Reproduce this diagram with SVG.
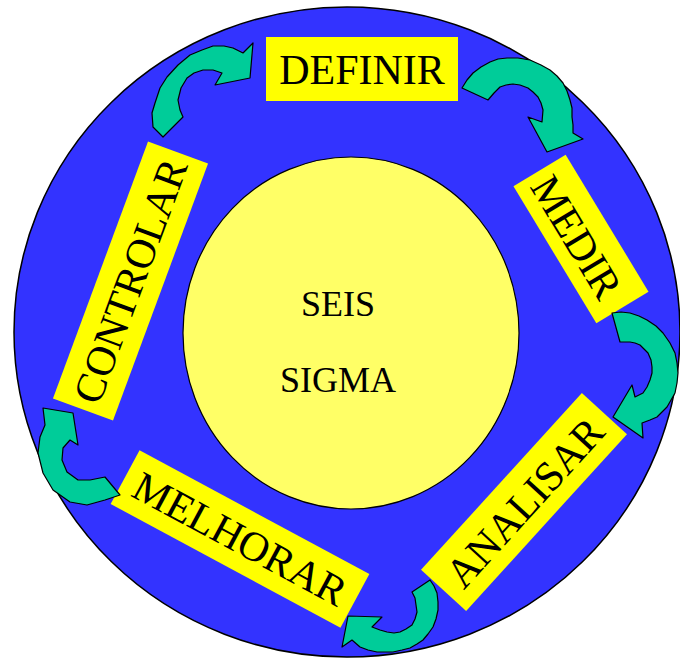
<svg xmlns="http://www.w3.org/2000/svg" width="680" height="658" viewBox="0 0 680 658">
<style>
.lbl{fill:#FFFF00;stroke:none}
.t{font-family:"Liberation Serif","Times New Roman",serif;font-size:42px;fill:#000;text-anchor:middle}
.c{font-family:"Liberation Serif","Times New Roman",serif;font-size:36px;fill:#000;text-anchor:middle}
.arr{fill:#00CC99;stroke:#000;stroke-width:1.2;stroke-linejoin:round}
</style>
<rect width="680" height="658" fill="#FFFFFF"/>
<g id="outer">
<ellipse cx="347" cy="332" rx="333" ry="325" fill="#3333FF" stroke="#000" stroke-width="1.5"/>
</g>
<g id="center">
<ellipse cx="351" cy="333" rx="168" ry="176" fill="#FFFF66" stroke="#000" stroke-width="1.2"/>
<text class="c" x="338" y="316">SEIS</text>
<text class="c" x="338" y="392">SIGMA</text>
</g>
<g id="definir">
<rect class="lbl" x="266" y="37" width="192" height="64"/>
<text class="t" x="362" y="84">DEFINIR</text>
</g>
<g id="medir" transform="translate(581,239) rotate(58.8)">
<rect class="lbl" x="-80" y="-30.5" width="160" height="61"/>
<text class="t" x="-4" y="17">MEDIR</text>
</g>
<g id="analisar" transform="translate(524,502) rotate(-47.7)">
<rect class="lbl" x="-119.5" y="-30.5" width="239" height="61"/>
<text class="t" x="0" y="15">ANALISAR</text>
</g>
<g id="melhorar" transform="translate(240,539) rotate(28.3)">
<rect class="lbl" x="-130.5" y="-30.5" width="261" height="61"/>
<text class="t" x="0" y="14">MELHORAR</text>
</g>
<g id="controlar" transform="translate(130.5,281) rotate(-69.7)">
<rect class="lbl" x="-137" y="-32" width="274" height="64"/>
<text class="t" x="0" y="14">CONTROLAR</text>
</g>
<g id="connectors">
<path class="arr" d="M163,137 L153,127 L152,113 L155,103 L160,88 L167,77 L178,65 L190,55 L202,50 L213,46 L224,46 L233,48 L243,53 L253,43 L250,78 L215,85 L222,73 L213,70 L203,70 L194,73 L187,78 L181,88 L178,100 L180,110 L183,117 Z"/>
<path class="arr" d="M462,88 L467,80 L473,73 L481,67 L490,62 L498,59 L507,58 L518,58 L530,60 L541,65 L550,70 L557,76 L563,83 L567,91 L570,100 L572,108 L572,117 L573,125 L573,133 L583,139 L547,152 L528,117 L542,122 L543,110 L541,103 L538,97 L533,92 L528,88 L520,85 L513,84 L506,85 L500,87 L494,93 L488,100 Z"/>
<path class="arr" d="M612,313 L621,312 L630,313 L639,316 L647,320 L656,326 L663,333 L670,343 L675,353 L677,363 L678,373 L677,383 L675,393 L671,400 L667,407 L662,412 L657,417 L650,420 L642,423 L643,438 L613,417 L632,385 L635,397 L643,393 L647,387 L650,380 L652,373 L652,367 L651,360 L648,353 L644,349 L640,345 L635,343 L630,342 L620,342 Z"/>
<path class="arr" d="M430,580 L434,586 L437,593 L438,602 L438,610 L436,619 L433,627 L428,634 L423,640 L417,644 L410,648 L402,650 L393,652 L385,652 L377,652 L368,650 L360,647 L352,640 L342,647 L348,616 L382,617 L372,627 L380,630 L387,632 L394,633 L400,632 L406,629 L412,625 L415,619 L417,612 L416,605 L415,598 L412,592 Z"/>
<path class="arr" d="M73,413 L78,445 L70,440 L63,448 L62,460 L67,472 L78,480 L90,480 L105,477 L120,495 L105,500 L87,505 L70,502 L53,490 L43,473 L38,453 L40,437 L45,425 L43,408 Z"/>
</g>
</svg>
